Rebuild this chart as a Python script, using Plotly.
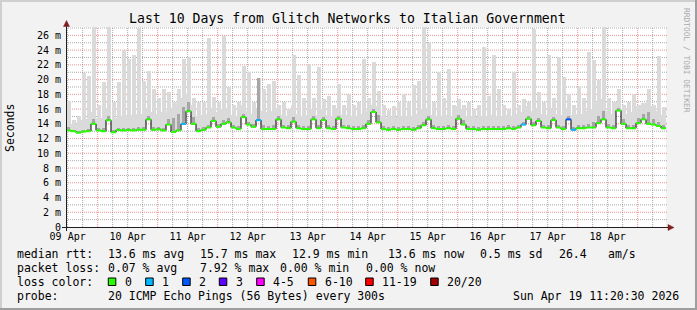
import plotly.graph_objects as go
from datetime import datetime, timedelta

# ---------------- data (2-hour bins, ms) ----------------
start = datetime(2026, 4, 9, 11, 20, 30)
end = datetime(2026, 4, 19, 11, 20, 30)
BIN_HOURS = 2

median = [
    13.1, 13.0, 12.8, 12.95, 13.0, 14.0, 13.1, 13.0, 14.5, 12.85,
    13.15, 13.1, 13.15, 13.1, 13.2, 13.2, 14.6, 13.2, 13.25, 13.1,
    13.9, 12.9, 13.1, 14.0, 15.7, 14.0, 13.0, 13.2, 13.5, 14.4,
    13.6, 14.0, 14.2, 13.5, 13.3, 14.9, 13.9, 13.6, 14.5, 13.3,
    13.3, 13.3, 14.6, 13.5, 13.4, 14.3, 13.4, 13.3, 13.3, 14.6,
    13.4, 14.5, 13.4, 13.3, 14.7, 13.5, 13.4, 13.3, 13.3, 13.4,
    14.0, 15.6, 14.2, 13.3, 13.2, 13.3, 13.2, 13.3, 13.3, 13.2,
    13.4, 13.8, 14.6, 13.4, 13.3, 13.3, 13.4, 13.3, 14.7, 13.9,
    13.3, 13.3, 13.2, 13.3, 13.3, 13.3, 13.3, 13.3, 13.4, 13.3,
    13.5, 13.9, 14.7, 13.8, 14.4, 13.5, 13.4, 14.5, 13.5, 13.3,
    14.6, 13.2, 13.4, 13.4, 13.5, 13.5, 14.1, 14.6, 13.5, 13.4,
    15.8, 14.0, 13.4, 13.4, 14.1, 14.6, 14.0, 13.9, 13.7, 13.4,
]

smoke_max = [
    17.1, 14.5, 15.0, 20.9, 20.5, 27.2, 16.5, 19.7, 27.2, 17.0,
    19.7, 24.0, 22.8, 23.4, 27.0, 19.8, 21.2, 18.7, 17.5, 18.7,
    18.3, 16.9, 18.7, 22.8, 23.1, 17.5, 17.0, 17.0, 25.6, 17.6,
    17.0, 25.9, 19.0, 16.5, 17.0, 21.9, 21.0, 17.0, 20.2, 18.7,
    19.4, 19.8, 16.5, 16.9, 16.0, 23.3, 20.6, 17.5, 22.1, 17.5,
    21.7, 17.4, 17.8, 16.5, 19.4, 16.5, 18.0, 16.5, 17.0, 22.8,
    17.5, 22.4, 18.5, 16.5, 15.9, 16.4, 17.0, 18.0, 17.0, 19.3,
    19.8, 27.2, 24.9, 17.0, 21.0, 17.5, 21.4, 16.5, 17.4, 16.5,
    16.9, 16.0, 16.5, 24.4, 17.8, 23.3, 18.7, 16.5, 16.0, 21.0,
    16.5, 17.4, 17.0, 26.9, 18.3, 17.0, 23.3, 17.5, 23.1, 20.3,
    18.0, 16.5, 19.0, 17.5, 23.7, 22.6, 20.0, 27.2, 17.5, 17.0,
    18.7, 16.5, 17.0, 18.0, 16.5, 16.5, 18.7, 16.5, 23.2, 16.3,
]

smoke_mid = [
    14.6, 14.0, 14.0, 14.5, 14.6, 15.6, 14.8, 14.8, 16.0, 14.4,
    14.8, 15.0, 15.2, 15.2, 15.4, 15.4, 16.2, 15.6, 15.4, 15.6,
    15.8, 16.2, 16.8, 17.5, 18.0, 16.6, 15.0, 15.2, 15.4, 16.2,
    15.6, 16.0, 16.2, 15.2, 15.0, 16.5, 15.8, 15.4, 16.2, 15.8,
    15.6, 15.8, 16.0, 15.2, 15.0, 16.6, 15.4, 15.0, 15.2, 16.0,
    15.2, 16.0, 15.2, 15.0, 16.0, 15.2, 15.2, 15.0, 15.0, 15.4,
    15.8, 16.6, 16.4, 15.0, 14.8, 15.0, 14.9, 15.0, 15.1, 15.0,
    15.4, 16.0, 16.2, 15.2, 15.0, 15.0, 15.2, 15.0, 16.4, 16.0,
    15.0, 15.0, 14.9, 15.0, 15.0, 15.2, 15.0, 15.0, 15.2, 15.0,
    15.3, 15.6, 16.4, 15.8, 16.0, 15.3, 15.2, 16.2, 15.4, 15.2,
    16.2, 15.2, 15.4, 15.4, 15.8, 16.0, 16.8, 17.4, 15.8, 15.4,
    17.0, 16.0, 15.4, 15.6, 16.4, 16.8, 17.2, 16.4, 15.8, 15.2,
]

dark_top = [
    13.6, 13.2, 13.0, 13.2, 13.3, 14.6, 13.5, 13.4, 15.0, 13.1,
    13.4, 13.4, 13.5, 13.4, 13.6, 13.6, 15.1, 13.6, 13.6, 13.5,
    14.6, 14.8, 15.4, 16.3, 17.0, 14.9, 13.4, 13.6, 13.9, 14.9,
    14.0, 14.5, 14.8, 13.9, 13.7, 15.3, 14.3, 14.0, 20.2, 13.8,
    13.7, 13.8, 15.0, 13.9, 13.8, 14.9, 13.8, 13.7, 13.7, 15.0,
    13.8, 14.9, 13.8, 13.7, 15.1, 13.9, 13.8, 13.7, 13.7, 13.8,
    14.5, 16.0, 15.2, 13.7, 13.6, 13.7, 13.6, 13.7, 13.7, 13.6,
    13.8, 14.3, 15.0, 13.8, 13.7, 13.7, 13.8, 13.7, 15.2, 14.5,
    13.7, 13.7, 13.6, 13.7, 13.7, 13.7, 13.7, 13.7, 13.8, 13.7,
    13.9, 14.3, 15.1, 14.3, 14.8, 13.9, 13.8, 14.9, 13.9, 13.7,
    15.0, 13.6, 13.8, 13.8, 14.0, 14.2, 15.0, 15.8, 14.0, 13.8,
    16.2, 14.6, 13.8, 13.9, 14.8, 15.4, 15.6, 14.6, 14.2, 13.8,
]

loss_bins = [23, 38, 91, 100, 101]
loss_vals = [1, 1, 1, 2, 1]

loss_labels = ["0", "1", "2", "3", "4-5", "6-10", "11-19", "20/20"]
loss_colors = ["#26ff00", "#00b8ff", "#0059ff", "#5e00ff", "#ff00ff",
               "#ff5500", "#ff0000", "#a10000"]

y_ticks = list(range(0, 27, 2))
y_ticktext = ["0" if v == 0 else f"{v} m" for v in y_ticks]

title = "Last 10 Days from Glitch Networks to Italian Government"
stats_rows = [
    ["median rtt:", "13.6 ms avg", "15.7 ms max", "12.9 ms min", "13.6 ms now",
     "0.5 ms sd", "26.4", "am/s"],
    ["packet loss:", "0.07 % avg", "7.92 % max", "0.00 % min", "0.00 % now"],
]
probe_text = "20 ICMP Echo Pings (56 Bytes) every 300s"
stamp_text = "Sun Apr 19 11:20:30 2026"

# ---------------- layout geometry ----------------
W, H = 697, 310
L, R, T, B = 66, 31, 27, 83
PW, PH = W - L - R, H - T - B
YMAX = PH / 7.37
FONT = "DejaVu Sans Mono"


def px(x):
    return (x - L) / PW


def py(y):
    return (T + PH - y) / PH


n = len(median)
edges = [start + timedelta(hours=BIN_HOURS * i) for i in range(n + 1)]
centers = [start + timedelta(hours=BIN_HOURS * (i + 0.5)) for i in range(n)]
bw = BIN_HOURS * 3600 * 1000

fig = go.Figure()

# smoke: light spikes, continuous band, darker core
fig.add_trace(go.Bar(x=centers, base=median,
                     y=[a - m for a, m in zip(smoke_max, median)],
                     width=bw * 0.8, marker=dict(color="#dadada", line_width=0),
                     hoverinfo="skip", showlegend=False))
fig.add_trace(go.Bar(x=centers, base=median,
                     y=[a - m for a, m in zip(smoke_mid, median)],
                     width=bw, marker=dict(color="#dadada", line_width=0),
                     hoverinfo="skip", showlegend=False))
fig.add_trace(go.Bar(x=centers, base=median,
                     y=[a - m for a, m in zip(dark_top, median)],
                     width=bw * 0.5, marker=dict(color="#a6a6a6", line_width=0),
                     hoverinfo="skip", showlegend=False))

# median step line (black) + loss coloured segments
fig.add_trace(go.Scatter(x=edges, y=median + [median[-1]], mode="lines",
                         line=dict(color="#000000", width=1, shape="hv"),
                         hoverinfo="skip", showlegend=False))

loss_of_bin = [0] * n
for b, v in zip(loss_bins, loss_vals):
    loss_of_bin[b] = v


def loss_class(v):
    if v <= 3:
        return v
    if v <= 5:
        return 4
    if v <= 10:
        return 5
    if v <= 19:
        return 6
    return 7


for cls, col in enumerate(loss_colors):
    xs, ys = [], []
    for i in range(n):
        if loss_class(loss_of_bin[i]) == cls:
            xs += [edges[i], edges[i + 1], None]
            ys += [median[i], median[i], None]
    if xs:
        fig.add_trace(go.Scatter(x=xs, y=ys, mode="lines",
                                 line=dict(color=col, width=2),
                                 hoverinfo="skip", showlegend=False))

shapes = []
MINOR = "rgba(143,143,143,0.75)"
MAJOR = "rgba(222,79,79,0.6)"
# vertical grid every 6 h
t = datetime(2026, 4, 9, 12, 0, 0)
while t < end:
    shapes.append(dict(type="line", xref="x", yref="paper", x0=t, x1=t, y0=0, y1=1,
                       line=dict(color=MAJOR if t.hour == 0 else MINOR, width=1,
                                 dash="1px,1px"), layer="below"))
    t += timedelta(hours=6)
# horizontal grid every 1 ms
for v in range(1, 28):
    if v > YMAX:
        break
    shapes.append(dict(type="line", xref="paper", yref="y", x0=0, x1=px(668), y0=v, y1=v,
                       line=dict(color=MAJOR if v % 2 == 0 else MINOR, width=1,
                                 dash="1px,1px"), layer="below"))
# axes
AX = "#1f1f1f"
ARW = "#801f1f"
shapes.append(dict(type="line", xref="paper", yref="paper", x0=px(62), x1=px(669),
                   y0=py(227.5), y1=py(227.5), line=dict(color=AX, width=1), layer="above"))
shapes.append(dict(type="line", xref="paper", yref="paper", x0=px(66.5), x1=px(66.5),
                   y0=py(231), y1=py(25), line=dict(color=AX, width=1), layer="above"))
shapes.append(dict(type="path", xref="paper", yref="paper",
                   path=f"M {px(668)} {py(224.5)} L {px(674)} {py(227.5)} L {px(668)} {py(230.5)} Z",
                   fillcolor=ARW, line=dict(color=ARW, width=0.5), layer="above"))
shapes.append(dict(type="path", xref="paper", yref="paper",
                   path=f"M {px(63.5)} {py(26.5)} L {px(66.5)} {py(20.5)} L {px(69.5)} {py(26.5)} Z",
                   fillcolor=ARW, line=dict(color=ARW, width=0.5), layer="above"))
# frame shading
shapes.append(dict(type="rect", xref="paper", yref="paper", x0=px(0), x1=px(2),
                   y0=py(0), y1=py(H), fillcolor="#cfcfcf", line_width=0, layer="below"))
shapes.append(dict(type="rect", xref="paper", yref="paper", x0=px(0), x1=px(W),
                   y0=py(0), y1=py(2), fillcolor="#cfcfcf", line_width=0, layer="below"))
shapes.append(dict(type="rect", xref="paper", yref="paper", x0=px(W - 2), x1=px(W),
                   y0=py(0), y1=py(H), fillcolor="#9e9e9e", line_width=0, layer="below"))
shapes.append(dict(type="rect", xref="paper", yref="paper", x0=px(0), x1=px(W),
                   y0=py(H - 2), y1=py(H), fillcolor="#9e9e9e", line_width=0, layer="below"))

# legend swatches
sw_x = [108.3, 145.7, 182.7, 219.3, 256.7, 308.3, 365.7, 430.7]
for x0, col in zip(sw_x, loss_colors):
    shapes.append(dict(type="rect", xref="paper", yref="paper", x0=px(x0), x1=px(x0 + 7.5),
                       y0=py(285.5), y1=py(278), fillcolor=col,
                       line=dict(color="#000000", width=1), layer="above"))

ann = []


def text(x, y, s, size=11.5, anchor="left", color="#000000", angle=0):
    ann.append(dict(x=px(x), y=py(y), xref="paper", yref="paper", text=s, showarrow=False,
                    xanchor=anchor, yanchor="middle", borderpad=0, textangle=angle,
                    font=dict(family=FONT, size=size, color=color)))


text(347.5, 18.5, title, size=13.2, anchor="center")
text(10, 128, "Seconds", size=11.5, anchor="center", angle=-90)
text(687, 60, "RRDTOOL / TOBI OETIKER", size=7.9, anchor="center", color="#aaaaaa", angle=90)

row_y = [253.7, 267.7, 281.7, 295.5]
row1_x = [16, 107.3, 199.3, 291, 386.7, 479.3, 558.3, 607.3]
row2_x = [16, 107.3, 199.3, 279.3, 365]
for s, x in zip(stats_rows[0], row1_x):
    text(x, row_y[0], s)
for s, x in zip(stats_rows[1], row2_x):
    text(x, row_y[1], s)
text(16, row_y[2], "loss color:")
for x0, lab in zip(sw_x, loss_labels):
    text(x0 + 15.7, row_y[2], lab)
text(16, row_y[3], "probe:")
text(107.3, row_y[3], probe_text)
text(680, row_y[3], stamp_text, anchor="right")

fig.update_layout(
    width=W, height=H,
    margin=dict(l=L, r=R, t=T, b=B, pad=0),
    paper_bgcolor="#f2f2f2", plot_bgcolor="#ffffff",
    barmode="overlay", bargap=0,
    shapes=shapes, annotations=ann, showlegend=False,
    xaxis=dict(type="date", range=[start, end], showgrid=False, zeroline=False,
               showline=False, ticks="", tick0="2026-04-09 12:00:00", dtick=86400000,
               tickformat="%d %b", tickfont=dict(family=FONT, size=10, color="#000000"),
               ticklabelstandoff=2, fixedrange=True),
    yaxis=dict(range=[0, YMAX], showgrid=False, zeroline=False, showline=False, ticks="",
               tickvals=y_ticks, ticktext=y_ticktext,
               tickfont=dict(family=FONT, size=10, color="#000000"),
               ticklabelstandoff=4, fixedrange=True),
)

fig.write_html("out.html")
